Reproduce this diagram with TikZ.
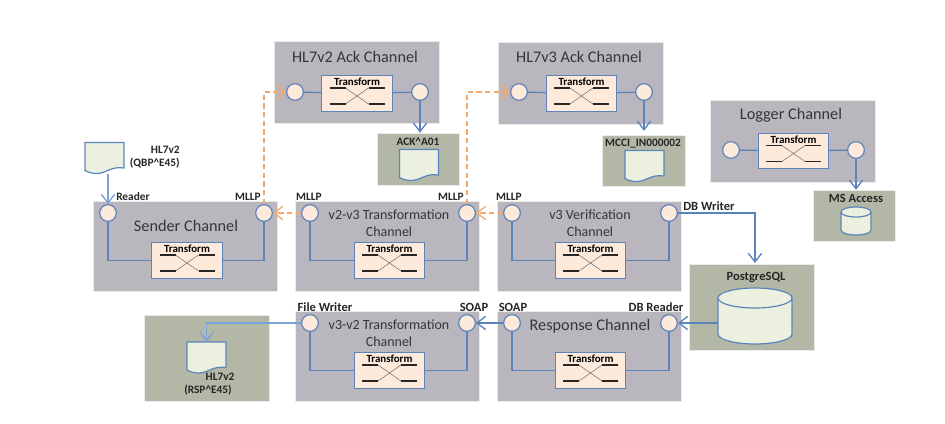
\documentclass[tikz,border=0pt]{standalone}
\usepackage{fontspec}
\setmainfont{Carlito}
\usetikzlibrary{arrows.meta,positioning,calc}
\definecolor{chgray}{HTML}{B9B6BD}
\definecolor{chgreen}{HTML}{B3B7A5}
\definecolor{peach}{HTML}{FDEADA}
\definecolor{paleg}{HTML}{EBF1DE}
\definecolor{wire}{HTML}{5B84BC}
\definecolor{lwire}{HTML}{7BA3D6}
\definecolor{orng}{HTML}{F4A86C}
\definecolor{ttl}{HTML}{35353A}
\tikzset{
xformbody/.pic={
  \node (box) [draw=wire,fill=peach,line width=.9pt,minimum width=53pt,minimum height=26.5pt,inner sep=0] at (0,0) {};
  \node (lab) [font=\bfseries\fontsize{8.2}{8}\selectfont,text=black,inner sep=0] at (0,-11.5) {Transform};
  \draw[line width=.4pt,black!55] (-11.5,-5.5) -- (11.5,10.5);
  \draw[line width=.4pt,black!55] (-11.5,10.5) -- (11.5,-5.5);
  \foreach \xa/\ya in {-27.5/-5.5,-27.5/10.5,11.5/-5.5,11.5/10.5}
    \draw[line width=1.1pt,black!85] (\xa,\ya) -- +(16,0);
},
docbody/.pic={
  \path[draw=wire,fill=paleg,line width=.9pt] (-19.5,-15.5) -- (19.5,-15.5) -- (19.5,10)
    .. controls (6,8) and (2,15.5) .. (-8,15.5) .. controls (-12,15.5) and (-16,14.5) .. (-19.5,12.5) -- cycle;
  \node (shape) [minimum width=29pt,minimum height=23pt,inner sep=0] at (0,0) {};
},
pics/dbbody/.style n args={3}{code={
  \path[draw=wire,fill=paleg,line width=.9pt] (-#1,#3-#2) -- (-#1,#2-#3)
    arc[start angle=180,end angle=360,x radius=#1*.75pt,y radius=#3*.75pt] -- (#1,#3-#2)
    arc[start angle=0,end angle=180,x radius=#1*.75pt,y radius=#3*.75pt] -- cycle;
  \draw[draw=wire,line width=.9pt] (-#1,#3-#2)
    arc[start angle=180,end angle=360,x radius=#1*.75pt,y radius=#3*.75pt];
  \node (shape) [minimum width=#1*1.5pt,minimum height=#2*1.5pt,inner sep=0] at (0,0) {};
}}}
\begin{document}
\begin{tikzpicture}
[x=.75pt,y=-.75pt,
chan/.style={fill=chgray,draw=black!8,line width=.5pt,inner sep=0},
chwide/.style={chan,minimum width=138pt,minimum height=67.5pt},
chsmall/.style={chan,minimum width=123.5pt,minimum height=61.5pt},
sink/.style={fill=chgreen,draw=black!8,line width=.5pt,inner sep=0},
port/.style={shape=circle,draw=wire,fill=peach,line width=.9pt,minimum size=12.5pt,inner sep=0},
title/.style={font=\fontsize{12.2}{14.5}\selectfont,text=ttl,align=center,inner sep=0},
twoline/.style={font=\fontsize{10.5}{12.7}\selectfont,text=ttl,align=center,inner sep=0},
tag/.style={font=\bfseries\fontsize{8.5}{9.6}\selectfont,text=black!85,align=center,inner sep=0},
tagbig/.style={font=\bfseries\fontsize{9.4}{10}\selectfont,text=black!85,align=center,inner sep=0},
myedge/.style={>={Straight Barb[length=6.5pt,width=10pt]},draw=wire,line width=1pt},
lightedge/.style={>={Straight Barb[length=6.5pt,width=10pt]},draw=lwire,line width=1pt},
orgedge/.style={>={Straight Barb[length=6.5pt,width=10pt]},draw=orng,line width=1pt,dash pattern=on 4pt off 2.5pt}]
\useasboundingbox (0,0) rectangle (945,424);
%%%%%%%%%%
%% channels
\node (sender) [chwide] at (185,246) {};
\node (vtwo) [chwide] at (387,246) {};
\node (verif) [chwide] at (589,246) {};
\node (vthree) [chwide] at (387,356.5) {};
\node (resp) [chwide] at (589,356.5) {};
\node (acktwo) [chsmall] at (356.5,82.5) {};
\node (ackthree) [chsmall] at (581,83) {};
\node (logger) [chsmall] at (793,141) {};
%% sinks
\node (acksink) [sink,minimum width=61.5pt,minimum height=39pt] at (418,159) {};
\node (mccisink) [sink,minimum width=62pt,minimum height=38pt] at (643.5,160.5) {};
\node (accsink) [sink,minimum width=61.5pt,minimum height=38pt] at (854,215.5) {};
\node (pgsink) [sink,minimum width=94pt,minimum height=64.5pt] at (751.5,307) {};
\node (rspsink) [sink,minimum width=94pt,minimum height=64.5pt] at (206.5,358) {};
%% transforms
\pic (sx) at (187,260.5) {xformbody};
\pic (vx) at (389.5,260.5) {xformbody};
\pic (cx) at (590.5,260.5) {xformbody};
\pic (tx) at (389.5,370.5) {xformbody};
\pic (rx) at (590.5,370.5) {xformbody};
\pic (ax) at (357,93.5) {xformbody};
\pic (bx) at (581.5,93.5) {xformbody};
\pic (lx) at (793.5,151) {xformbody};
%% ports
\node (sl) [port] at (108,213) {};
\node (sr) [port] at (264,213) {};
\node (vl) [port] at (310,213) {};
\node (vr) [port] at (467,213) {};
\node (cl) [port] at (512,213) {};
\node (cr) [port] at (669,213) {};
\node (tl) [port] at (310,323) {};
\node (tr) [port] at (467,323) {};
\node (rl) [port] at (512,323) {};
\node (rr) [port] at (669,323) {};
\node (al) [port] at (295,92) {};
\node (ar) [port] at (420,92) {};
\node (bl) [port] at (519,92) {};
\node (br) [port] at (644,92) {};
\node (ll) [port] at (731,150) {};
\node (lr) [port] at (856,150) {};
%% documents
\pic (qbp) at (104.5,158) {docbody};
\pic (ack) at (419,165) {docbody};
\pic (mcci) at (644.5,166) {docbody};
\pic (rsp) at (206.5,357.5) {docbody};
%% databases
\pic (pg) at (755,316) {dbbody={37}{28}{10}};
\pic (acc) at (856,221) {dbbody={15}{14}{5}};
%% inner wires
\draw[myedge] (sl) |- (sxbox);
\draw[myedge] (sr) |- (sxbox);
\draw[myedge] (vl) |- (vxbox);
\draw[myedge] (vr) |- (vxbox);
\draw[myedge] (cl) |- (cxbox);
\draw[myedge] (cr) |- (cxbox);
\draw[myedge] (tl) |- (txbox);
\draw[myedge] (tr) |- (txbox);
\draw[myedge] (rl) |- (rxbox);
\draw[myedge] (rr) |- (rxbox);
\draw[myedge] (al) -- (axbox);
\draw[myedge] (ar) -- (axbox);
\draw[myedge] (bl) -- (bxbox);
\draw[myedge] (br) -- (bxbox);
\draw[myedge] (ll) -- (lxbox);
\draw[myedge] (lr) -- (lxbox);
%% edges
\coordinate (pgin) at (755,263);
\draw[lightedge,->] (qbpshape.south -| sl) -- (sl);
\draw[orgedge,->] (vl) -- (sr);
\draw[orgedge,->] (cl) -- (vr);
\draw[orgedge,->] (sr) |- (al);
\draw[orgedge,->] (vr) |- (bl);
\draw[myedge,->] (ar) -- (ar |- acksink.north);
\draw[myedge,->] (br) -- ($(br |- mccisink.north)+(0,-4)$);
\draw[myedge,->] (lr) -- (lr |- accsink.north);
\draw[myedge,->] (cr) -| (pgin);
\draw[myedge,->] (pgshape.west |- rr) -- (rr);
\draw[myedge,->] (rl) -- (tr);
\draw[lightedge,->] (tl) -| (rspshape.north);
%% titles
\node (tsender) [title] at (186,226) {Sender Channel};
\node (tvtwo) [twoline] at (389,223.5) {v2-v3 Transformation\\Channel};
\node (tverif) [twoline] at (590,223.5) {v3 Verification\\Channel};
\node (tvthree) [twoline] at (389,333.5) {v3-v2 Transformation\\Channel};
\node (tresp) [title] at (590,326) {Response Channel};
\node (tacktwo) [title] at (355,57) {HL7v2 Ack Channel};
\node (tackthree) [title] at (579,57) {HL7v3 Ack Channel};
\node (tlogger) [title] at (791,115) {Logger Channel};
%% tags
\node (reader) [tag,anchor=west] at (116,197) {Reader};
\node (mllpa) [tag] at (248,197) {MLLP};
\node (mllpb) [tag] at (309,197) {MLLP};
\node (mllpc) [tag] at (451,197) {MLLP};
\node (mllpd) [tag] at (509,197) {MLLP};
\node (dbw) [tagbig,anchor=west] at (683,206) {DB Writer};
\node (filew) [tagbig] at (325,307) {File Writer};
\node (soapa) [tagbig] at (474,307) {SOAP};
\node (soapb) [tagbig] at (513,307) {SOAP};
\node (dbr) [tagbig] at (656,307) {DB Reader};
\node (qbplab) [tag,align=right,anchor=east] at (180,157.5) {HL7v2\\(QBP\^{}E45)};
\node (acklab) [tag] at (418,142) {ACK\^{}A01};
\node (mccilab) [tag] at (643,144) {MCCI\_IN000002};
\node (acclab) [tagbig] at (856,198) {MS Access};
\node (pglab) [tagbig] at (756,277) {PostgreSQL};
\node (rsplab) [tag,align=center] at (208,384.5) {\hspace*{18pt}HL7v2\\(RSP\^{}E45)};
\end{tikzpicture}
\end{document}
